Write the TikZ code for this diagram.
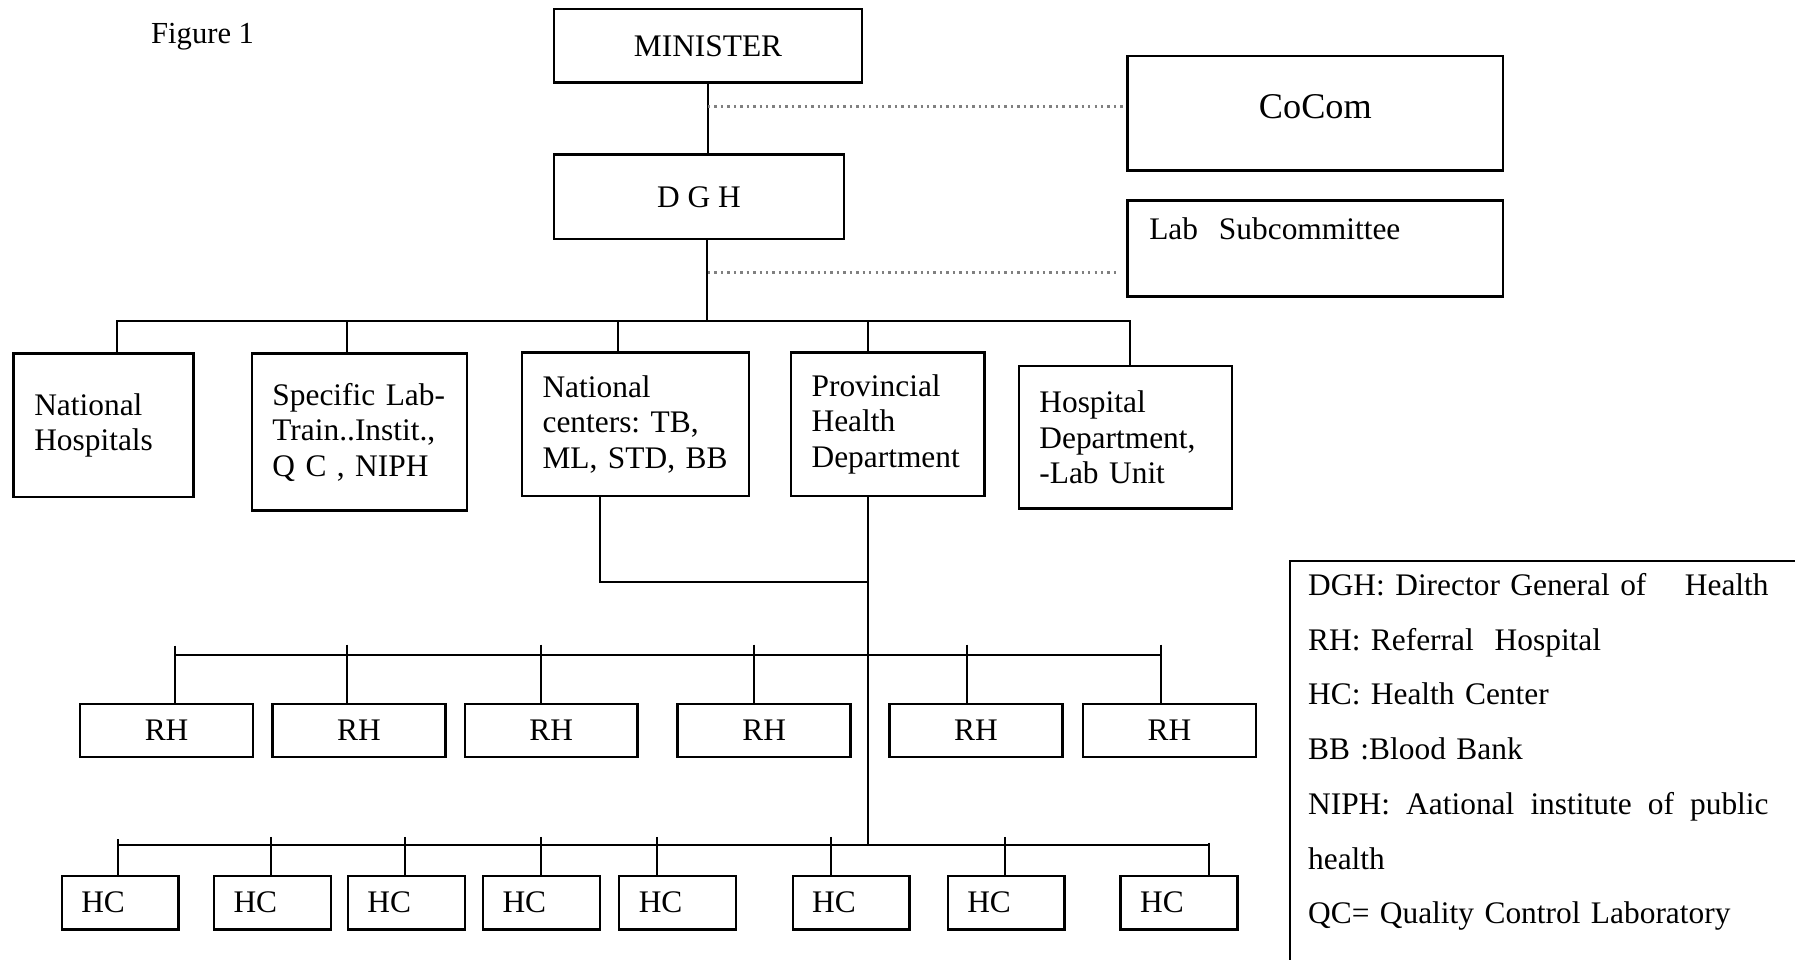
\documentclass[tikz,border=0pt]{standalone}
\usepackage{fontspec}
\setmainfont{Liberation Serif}
\usepackage{tikz}

\begin{document}
\begin{tikzpicture}[x=0.01cm, y=-0.01cm,
	box/.style={draw, line width=0.6pt, inner sep=0pt, font=\fontsize{7.8}{8.8}\selectfont},
	unit/.style={box, align=left, inner xsep=0.18cm},
	rhbox/.style={box, minimum width=1.51cm, minimum height=0.46cm},
	hcbox/.style={box, align=left, inner xsep=0.17cm, text width=0.68cm, minimum height=0.47cm},
	link/.style={line width=0.5pt},
	dots/.style={line width=0.6pt, densely dotted, gray}]
		\useasboundingbox (0, 0) rectangle (1568, 839);

		\node (fig) at (177, 32) {\fontsize{7.6}{9}\selectfont Figure 1};

		\node[box, minimum width=2.69cm, minimum height=0.64cm] (min) at (618.5, 40) {MINISTER};
		\node[box, minimum width=2.53cm, minimum height=0.74cm] (dgh) at (610.5, 172) {D G H};
		\node[box, minimum width=3.28cm, minimum height=1cm, text depth=0.12cm, font=\fontsize{9}{11}\selectfont] (cocom) at (1149, 99) {CoCom};
		\node[box, align=left, inner xsep=0.19cm, text width=2.90cm, minimum height=0.84cm, text height=0.2cm, text depth=0.36cm] (lab) at (1149, 217) {Lab\ \ Subcommittee};

		\node[unit, text width=1.21cm, minimum height=1.25cm] (nh) at (90.5, 371.5) {National\\Hospitals};
		\node[unit, text width=1.52cm, minimum height=1.37cm] (sl) at (314, 377.5) {Specific~Lab-\\Train..Instit.,\\Q~C~,~NIPH};
		\node[unit, text width=1.62cm, minimum height=1.25cm] (nc) at (555, 370.5) {National\\centers:~TB,\\ML,~STD,~BB};
		\node[unit, text width=1.33cm, minimum height=1.25cm] (ph) at (775.5, 370.5) {Provincial\\Health\\Department};
		\node[unit, text width=1.50cm, minimum height=1.24cm] (hd) at (983, 382) {Hospital\\Department,\\-Lab~Unit};

		\node[rhbox] (rh1) at (145.5, 638) {RH};
		\node[rhbox] (rh2) at (313.5, 638) {RH};
		\node[rhbox] (rh3) at (481.5, 638) {RH};
		\node[rhbox] (rh4) at (667.5, 638) {RH};
		\node[rhbox] (rh5) at (852.5, 638) {RH};
		\node[rhbox] (rh6) at (1021.5, 638) {RH};

		\node[hcbox] (hc1) at (105, 788.5) {HC};
		\node[hcbox] (hc2) at (238, 788.5) {HC};
		\node[hcbox] (hc3) at (355, 788.5) {HC};
		\node[hcbox] (hc4) at (473, 788.5) {HC};
		\node[hcbox] (hc5) at (592, 788.5) {HC};
		\node[hcbox] (hc6) at (743.5, 788.5) {HC};
		\node[hcbox] (hc7) at (879, 788.5) {HC};
		\node[hcbox] (hc8) at (1030, 788.5) {HC};

		\coordinate (j1) at (618, 280);
		\coordinate (j2) at (758, 508);
		\coordinate (j3) at (758, 572);
		\coordinate (j4) at (758, 738);

		\draw[link] (min.south) -- (min.south |- dgh.north);
		\draw[dots] (min.south |- 0, 93) -- (cocom.west |- 0, 93);
		\draw[dots] (min.south |- 0, 238) -- (978, 238);
		\draw[link] (dgh.south -| j1) -- (j1);

		\draw[link] (nh.north -| 102, 0) |- (j1) -| (hd.north -| 987, 0);
		\draw[link] (j1 -| 303, 0) -- (sl.north -| 303, 0);
		\draw[link] (j1 -| 540, 0) -- (nc.north -| 540, 0);
		\draw[link] (j1 -| 758, 0) -- (ph.north -| 758, 0);

		\draw[link] (nc.south -| 524, 0) |- (j2);
		\draw[link] (ph.south -| j2) -- (j4);

		\draw[link] (j3 -| 153, 0) -- (j3 -| 1014, 0);
		\draw[link] (153, 564) -- (rh1.north -| 153, 0);
		\draw[link] (303, 563) -- (rh2.north -| 303, 0);
		\draw[link] (473, 563) -- (rh3.north -| 473, 0);
		\draw[link] (659, 563) -- (rh4.north -| 659, 0);
		\draw[link] (845, 563) -- (rh5.north -| 845, 0);
		\draw[link] (1014, 563) -- (rh6.north -| 1014, 0);

		\draw[link] (j4 -| 103, 0) -- (j4 -| 1056, 0);
		\draw[link] (103, 733) -- (hc1.north -| 103, 0);
		\draw[link] (237, 731) -- (hc2.north -| 237, 0);
		\draw[link] (354, 731) -- (hc3.north -| 354, 0);
		\draw[link] (473, 731) -- (hc4.north -| 473, 0);
		\draw[link] (574, 731) -- (hc5.north -| 574, 0);
		\draw[link] (726, 731) -- (hc6.north -| 726, 0);
		\draw[link] (878, 731) -- (hc7.north -| 878, 0);
		\draw[link] (1056, 736) -- (hc8.north -| 1056, 0);

		\draw[link] (1568, 490) -- (1127, 490) -- (1127, 839);
		\node[anchor=base west, align=left, text width=4.02cm, inner sep=0pt, font=\fontsize{7.8}{13.6}\selectfont] (key) at (1142, 520) {DGH: Director General of\hfill Health\\RH: Referral\ \ Hospital\\HC: Health Center\\BB :Blood Bank\\NIPH:\hfill Aational\hfill institute\hfill of\hfill public\\health\\QC= Quality Control Laboratory};
	\end{tikzpicture}
\end{document}
